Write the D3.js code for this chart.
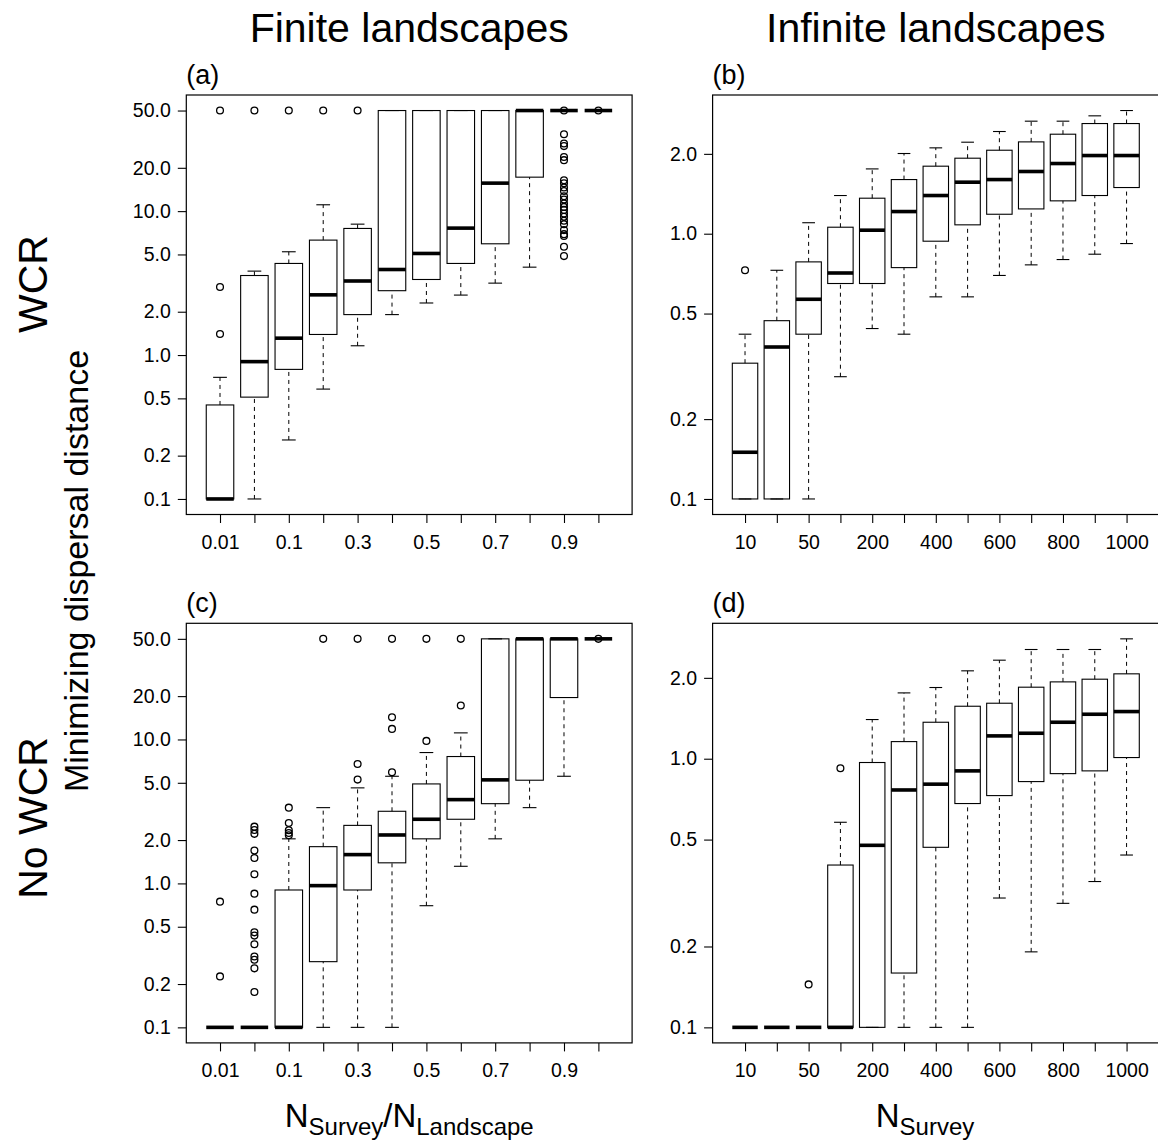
<!DOCTYPE html>
<html>
<head>
<meta charset="utf-8">
<script src="https://cdn.jsdelivr.net/npm/d3@7.9.0/dist/d3.min.js"></script>
<style>
  body { margin: 0; background: #fff; }
  svg { display: block; font-family: 'Liberation Sans', Arial, Helvetica, sans-serif; }
</style>
</head>
<body>
<div id="chart"></div>
<script>
// x categories and which tick labels R managed to print
const finiteCats = ['0.01', '0.05', '0.1', '0.2', '0.3', '0.4', '0.5', '0.6', '0.7', '0.8', '0.9', '1.0'];
const finiteTickLabels = ['0.01', '', '0.1', '', '0.3', '', '0.5', '', '0.7', '', '0.9', ''];
const infiniteCats = ['10', '20', '50', '100', '200', '300', '400', '500', '600', '700', '800', '900', '1000'];
const infiniteTickLabels = ['10', '', '50', '', '200', '', '400', '', '600', '', '800', '', '1000'];

const finiteYTicks = [0.1, 0.2, 0.5, 1, 2, 5, 10, 20, 50];
const infiniteYTicks = [0.1, 0.2, 0.5, 1, 2];

// box stats: [lower whisker, Q1, median, Q3, upper whisker]
const wcrFiniteStats = [
  [0.1, 0.1, 0.1, 0.45, 0.70],
  [0.1, 0.51, 0.90, 3.57, 3.83],
  [0.257, 0.795, 1.31, 4.33, 5.22],
  [0.58, 1.39, 2.62, 6.29, 11.07],
  [1.16, 1.91, 3.27, 7.58, 8.12],
  [1.91, 2.80, 3.93, 50, 50],
  [2.30, 3.35, 5.08, 50, 50],
  [2.61, 4.33, 7.62, 50, 50],
  [3.16, 5.93, 15.65, 50, 50],
  [4.08, 17.22, 50, 50, 50],
  [50, 50, 50, 50, 50],
  [50, 50, 50, 50, 50],
];
const wcrFiniteOut = [
  [1.40, 2.97, 50],
  [50],
  [50],
  [50],
  [50],
  [], [], [], [], [],
  [4.87, 5.65, 6.71, 6.92, 7.38, 8.12, 8.57, 9.13, 9.63, 10.2, 10.7, 11.3, 12.05, 12.7,
   13.8, 14.6, 15.6, 16.4, 22.6, 23.8, 28.3, 29.5, 34.2, 50],
  [50],
];

const wcrInfiniteStats = [
  [0.1, 0.1, 0.150, 0.325, 0.418],
  [0.1, 0.1, 0.374, 0.470, 0.728],
  [0.1, 0.418, 0.566, 0.783, 1.10],
  [0.289, 0.649, 0.711, 1.058, 1.393],
  [0.439, 0.649, 1.031, 1.361, 1.755],
  [0.418, 0.745, 1.212, 1.60, 2.006],
  [0.578, 0.937, 1.393, 1.797, 2.107],
  [0.578, 1.08, 1.564, 1.926, 2.213],
  [0.696, 1.184, 1.60, 2.064, 2.428],
  [0.763, 1.24, 1.716, 2.219, 2.656],
  [0.799, 1.33, 1.839, 2.372, 2.656],
  [0.837, 1.393, 1.971, 2.602, 2.782],
  [0.918, 1.493, 1.971, 2.602, 2.913],
];
const wcrInfiniteOut = [[0.728], [], [], [], [], [], [], [], [], [], [], [], []];

const noWcrFiniteStats = [
  [0.1, 0.1, 0.1, 0.1, 0.1],
  [0.1, 0.1, 0.1, 0.1, 0.1],
  [0.1, 0.1, 0.1, 0.90, 2.04],
  [0.1, 0.286, 0.965, 1.80, 3.36],
  [0.1, 0.90, 1.585, 2.53, 4.61],
  [0.1, 1.39, 2.17, 3.17, 5.55],
  [0.70, 2.04, 2.79, 4.91, 8.11],
  [1.315, 2.79, 3.82, 7.61, 11.11],
  [2.04, 3.58, 5.24, 50, 50],
  [3.36, 5.21, 50, 50, 50],
  [5.55, 19.55, 50, 50, 50],
  [50, 50, 50, 50, 50],
];
const noWcrFiniteOut = [
  [0.226, 0.747],
  [0.176, 0.257, 0.295, 0.311, 0.378, 0.434, 0.457, 0.657, 0.849, 1.157, 1.50, 1.69, 2.21, 2.35, 2.48],
  [2.16, 2.24, 2.34, 2.63, 3.36],
  [50],
  [5.26, 6.76, 50],
  [5.92, 11.84, 14.27, 50],
  [9.77, 50],
  [17.2, 50],
  [], [], [],
  [50],
];

const noWcrInfiniteStats = [
  [0.1, 0.1, 0.1, 0.1, 0.1],
  [0.1, 0.1, 0.1, 0.1, 0.1],
  [0.1, 0.1, 0.1, 0.1, 0.1],
  [0.1, 0.1, 0.1, 0.402, 0.580],
  [0.1, 0.1, 0.476, 0.968, 1.399],
  [0.1, 0.1593, 0.765, 1.158, 1.758],
  [0.1, 0.468, 0.804, 1.367, 1.841],
  [0.1, 0.681, 0.901, 1.568, 2.124],
  [0.303, 0.729, 1.216, 1.609, 2.327],
  [0.191, 0.822, 1.244, 1.846, 2.550],
  [0.2895, 0.880, 1.367, 1.932, 2.550],
  [0.349, 0.901, 1.464, 1.977, 2.550],
  [0.438, 1.010, 1.498, 2.070, 2.794],
];
const noWcrInfiniteOut = [[], [], [0.1445], [0.922], [], [], [], [], [], [], [], [], []];

const width = 1158;
const height = 1142;

// plot regions (like R's plt for each panel)
const cols = [[186.3, 632.1], [712.6, 1159]];
const rows = [[95, 514.5], [623.3, 1042.9]];

const panels = [
  { tag: '(a)', col: 0, row: 0, cats: finiteCats, labels: finiteTickLabels, yTicks: finiteYTicks, stats: wcrFiniteStats, out: wcrFiniteOut },
  { tag: '(b)', col: 1, row: 0, cats: infiniteCats, labels: infiniteTickLabels, yTicks: infiniteYTicks, stats: wcrInfiniteStats, out: wcrInfiniteOut },
  { tag: '(c)', col: 0, row: 1, cats: finiteCats, labels: finiteTickLabels, yTicks: finiteYTicks, stats: noWcrFiniteStats, out: noWcrFiniteOut },
  { tag: '(d)', col: 1, row: 1, cats: infiniteCats, labels: infiniteTickLabels, yTicks: infiniteYTicks, stats: noWcrInfiniteStats, out: noWcrInfiniteOut },
];

const svg = d3.select('#chart')
  .append('svg')
  .attr('width', width)
  .attr('height', height)
  .attr('viewBox', `0 0 ${width} ${height}`);

function drawPanel(p) {
  const [left, right] = cols[p.col];
  const [top, bottom] = rows[p.row];
  const n = p.cats.length;

  // R style: xlim = 0.5..n+0.5, then 4% extension
  const x = d3.scalePoint()
    .domain(p.cats)
    .range([left, right])
    .padding(0.5 + 0.04 * n);

  const allVals = p.stats.flat().concat(p.out.flat());
  const lo = Math.log10(d3.min(allVals));
  const hi = Math.log10(d3.max(allVals));
  const ext = (hi - lo) * 0.04;
  const y = d3.scaleLog()
    .domain([10 ** (lo - ext), 10 ** (hi + ext)])
    .range([bottom, top]);

  const boxW = x.step() * 0.8;
  const g = svg.append('g');

  const items = p.cats.map((c, i) => ({ cat: c, s: p.stats[i], out: p.out[i] }));

  const box = g.selectAll('g.box')
    .data(items)
    .join('g')
    .attr('class', 'box');

  // whiskers
  box.append('line')
    .attr('x1', (d) => x(d.cat)).attr('x2', (d) => x(d.cat))
    .attr('y1', (d) => y(d.s[0])).attr('y2', (d) => y(d.s[1]))
    .attr('stroke', '#000').attr('stroke-dasharray', '4,4');
  box.append('line')
    .attr('x1', (d) => x(d.cat)).attr('x2', (d) => x(d.cat))
    .attr('y1', (d) => y(d.s[3])).attr('y2', (d) => y(d.s[4]))
    .attr('stroke', '#000').attr('stroke-dasharray', '4,4');

  // staples
  [0, 4].forEach((k) => {
    box.append('line')
      .attr('x1', (d) => x(d.cat) - boxW / 4).attr('x2', (d) => x(d.cat) + boxW / 4)
      .attr('y1', (d) => y(d.s[k])).attr('y2', (d) => y(d.s[k]))
      .attr('stroke', '#000').attr('stroke-width', 1.1);
  });

  // boxes
  box.append('rect')
    .attr('x', (d) => x(d.cat) - boxW / 2)
    .attr('width', boxW)
    .attr('y', (d) => y(d.s[3]))
    .attr('height', (d) => y(d.s[1]) - y(d.s[3]))
    .attr('fill', 'none')
    .attr('stroke', '#000')
    .attr('stroke-width', 1.1);

  // medians
  box.append('line')
    .attr('x1', (d) => x(d.cat) - boxW / 2).attr('x2', (d) => x(d.cat) + boxW / 2)
    .attr('y1', (d) => y(d.s[2])).attr('y2', (d) => y(d.s[2]))
    .attr('stroke', '#000').attr('stroke-width', 3.6);

  // outliers
  box.selectAll('circle')
    .data((d) => d.out.map((v) => ({ cat: d.cat, v })))
    .join('circle')
    .attr('cx', (d) => x(d.cat))
    .attr('cy', (d) => y(d.v))
    .attr('r', 3.4)
    .attr('fill', 'none')
    .attr('stroke', '#000')
    .attr('stroke-width', 1.3);

  // frame
  g.append('rect')
    .attr('x', left).attr('y', top)
    .attr('width', right - left).attr('height', bottom - top)
    .attr('fill', 'none').attr('stroke', '#000').attr('stroke-width', 1.2);

  // axes
  const yAxis = g.append('g')
    .attr('transform', `translate(${left},0)`)
    .call(d3.axisLeft(y).tickValues(p.yTicks).tickFormat(d3.format('.1f')).tickSize(8.5).tickPadding(7));
  const xAxis = g.append('g')
    .attr('transform', `translate(0,${bottom})`)
    .call(d3.axisBottom(x).tickFormat((d, i) => p.labels[i]).tickSize(8.5).tickPadding(12));

  [xAxis, yAxis].forEach((a) => {
    a.select('.domain').remove();
    a.selectAll('line').attr('stroke', '#000').attr('stroke-width', 1.1);
    a.selectAll('text').attr('fill', '#000').attr('font-size', 19.5).attr('font-family', null);
    a.attr('font-family', null);
  });

  // panel tag
  g.append('text')
    .attr('x', left)
    .attr('y', top - 11)
    .attr('font-size', 27)
    .text(p.tag);
}

panels.forEach(drawPanel);

// column titles
const colTitles = ['Finite landscapes', 'Infinite landscapes'];
svg.selectAll('text.coltitle')
  .data(colTitles)
  .join('text')
  .attr('class', 'coltitle')
  .attr('x', (d, i) => (cols[i][0] + cols[i][1]) / 2)
  .attr('y', 41.7)
  .attr('text-anchor', 'middle')
  .attr('font-size', 41)
  .text((d) => d);

// row labels
const rowTitles = ['WCR', 'No WCR'];
svg.selectAll('text.rowtitle')
  .data(rowTitles)
  .join('text')
  .attr('class', 'rowtitle')
  .attr('transform', (d, i) => `translate(47,${[284, 818][i]}) rotate(-90)`)
  .attr('text-anchor', 'middle')
  .attr('font-size', 41)
  .text((d) => d);

svg.append('text')
  .attr('transform', `translate(88,${height / 2}) rotate(-90)`)
  .attr('text-anchor', 'middle')
  .attr('font-size', 34)
  .text('Minimizing dispersal distance');

// x axis titles with subscripts
const xt1 = svg.append('text')
  .attr('x', (cols[0][0] + cols[0][1]) / 2)
  .attr('y', 1127)
  .attr('text-anchor', 'middle')
  .attr('font-size', 33);
xt1.append('tspan').text('N');
xt1.append('tspan').attr('font-size', 24).attr('dy', 8).text('Survey');
xt1.append('tspan').attr('dy', -8).text('/');
xt1.append('tspan').text('N');
xt1.append('tspan').attr('font-size', 24).attr('dy', 8).text('Landscape');

const xt2 = svg.append('text')
  .attr('x', 925)
  .attr('y', 1127)
  .attr('text-anchor', 'middle')
  .attr('font-size', 33);
xt2.append('tspan').text('N');
xt2.append('tspan').attr('font-size', 24).attr('dy', 8).text('Survey');
</script>
</body>
</html>
